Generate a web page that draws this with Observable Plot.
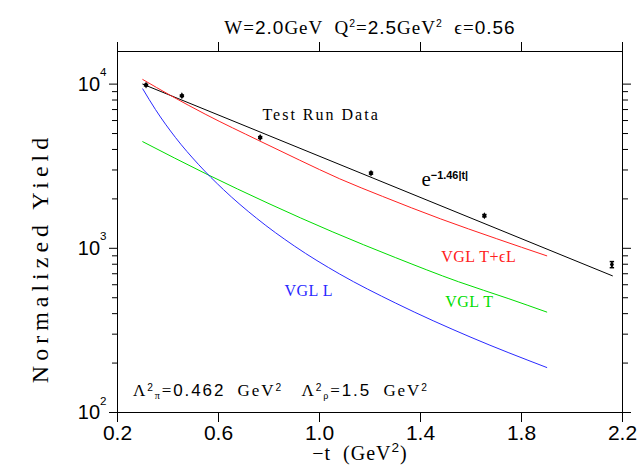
<!DOCTYPE html>
<html><head><meta charset="utf-8">
<script src="https://cdn.jsdelivr.net/npm/d3@7"></script>
<script src="https://cdn.jsdelivr.net/npm/@observablehq/plot@0.6"></script>
<style>
body{margin:0;background:#fff;}
svg text{white-space:pre;}
.title text{letter-spacing:1px;}
.anno text{letter-spacing:1.9px;}
.vgl text{letter-spacing:0.5px;}
.trd text{letter-spacing:2px;}
.ylab text{letter-spacing:5px;}
.xlab text{letter-spacing:1px;}
</style>
</head><body>
<div id="chart"></div>
<script>
// ---- data ----
const xTicks = [0.2, 0.6, 1.0, 1.4, 1.8, 2.2];
const yMajor = [100, 1000, 10000];
const yMinor = [200, 300, 400, 500, 600, 700, 800, 900, 2000, 3000, 4000, 5000, 6000, 7000, 8000, 9000];

// Test run data points
const dataT = [0.313, 0.455, 0.765, 1.204, 1.653, 2.158];
const dataY = [9860, 8490, 4730, 2870, 1580, 796];
const dataErr = [110, 95, 60, 40, 25, 34];

// exponential fit e^{-1.46|t|}
const fitT = [0.30, 2.16];
const fitY = [10000, 680];

// VGL T+eL (red)
const tplT = [0.30, 0.41, 0.55, 0.76, 0.92, 1.08, 1.25, 1.48, 1.70, 1.90];
const tplY = [10670, 8530, 6530, 4530, 3450, 2650, 2070, 1510, 1146, 900];

// VGL T (green)
const vtT = [0.30, 0.55, 0.80, 1.05, 1.30, 1.55, 1.75, 1.90];
const vtY = [4460, 2845, 1870, 1263, 879, 626, 493, 409];

// VGL L (blue)
const vlT = [0.30, 0.35, 0.43, 0.52, 0.62, 0.75, 0.90, 1.08, 1.30, 1.60, 1.90];
const vlY = [9354, 7015, 4721, 3251, 2275, 1528, 1034, 697, 465, 287, 188];

// text
const titleText = "W=2.0GeV  Q^{2}=2.5GeV^{2}  \u03f5=0.56";
const xLabel = "\u2212t  (GeV^{2})";
const yLabel = "Normalized Yield";
const annoText = "\u039b^{2}_{\u03c0}=0.462  GeV^{2}   \u039b^{2}_{\u03c1}=1.5  GeV^{2}";
const fitLabel = "e^{\u22121.46|t|}";
const runLabel = "Test Run Data";
const vglLabels = ["VGL T+\u03f5L", "VGL T", "VGL L"];
const vglLabelT = [1.482, 1.498, 0.861];
const vglLabelY = [893, 475, 552];
const vglColors = ["#ff2020", "#00dd00", "#2a2aff"];

// ---- build tables ----
const zip = (T, Y) => T.map((t, i) => ({t, y: Y[i]}));
const points = dataT.map((t, i) => ({t, y: dataY[i], lo: dataY[i] - dataErr[i], hi: dataY[i] + dataErr[i]}));
const vglText = vglLabels.map((s, i) => ({s, t: vglLabelT[i], y: vglLabelY[i], c: vglColors[i]}));

const SANS = "'Liberation Sans', Arial, Helvetica, sans-serif";
const SERIF = "'Liberation Serif', 'Times New Roman', serif";

const cap = {draw(ctx, size) { const r = Math.sqrt(size / Math.PI); ctx.moveTo(-r, 0); ctx.lineTo(r, 0); }};

const chart = Plot.plot({
  width: 643, height: 467,
  marginLeft: 117, marginRight: 21, marginTop: 51, marginBottom: 55,
  style: {background: "white", color: "black", fontFamily: SANS, overflow: "visible"},
  x: {domain: [0.2, 2.2], label: null},
  y: {type: "log", domain: [100, 15800], label: null},
  marks: [
    Plot.frame({stroke: "black"}),
    Plot.axisX({anchor: "bottom", ticks: xTicks, tickSize: 10, tickPadding: 3, tickFormat: d => d.toFixed(1), fontSize: 21, label: null}),
    Plot.axisX({anchor: "top", ticks: xTicks, tickSize: 10, tickFormat: () => "", label: null}),
    Plot.axisY({anchor: "left", ticks: yMajor, tickSize: 8, tickPadding: 3, tickFormat: d => "10^{" + Math.round(Math.log10(d)) + "}", fontSize: 20, label: null, className: "ytl"}),
    Plot.axisY({anchor: "left", ticks: yMinor, tickSize: 5, tickFormat: () => "", label: null}),
    Plot.axisY({anchor: "right", ticks: yMajor, tickSize: 8, tickFormat: () => "", label: null}),
    Plot.axisY({anchor: "right", ticks: yMinor, tickSize: 5, tickFormat: () => "", label: null}),
    Plot.line(zip(fitT, fitY), {x: "t", y: "y", stroke: "black", strokeWidth: 1}),
    Plot.line(zip(tplT, tplY), {x: "t", y: "y", stroke: vglColors[0], strokeWidth: 1, curve: "monotone-x"}),
    Plot.line(zip(vtT, vtY), {x: "t", y: "y", stroke: vglColors[1], strokeWidth: 1, curve: "monotone-x"}),
    Plot.line(zip(vlT, vlY), {x: "t", y: "y", stroke: vglColors[2], strokeWidth: 1, curve: "monotone-x"}),
    Plot.ruleX(points, {x: "t", y1: "lo", y2: "hi", stroke: "black"}),
    Plot.dot(points, {x: "t", y: "lo", symbol: cap, r: 2.2, stroke: "black"}),
    Plot.dot(points, {x: "t", y: "hi", symbol: cap, r: 2.2, stroke: "black"}),
    Plot.dot(points, {x: "t", y: "y", symbol: "diamond", r: 2.1, fill: "black", stroke: null}),
    Plot.text(vglText, {x: "t", y: "y", text: "s", fill: "c", textAnchor: "start", fontSize: 16, fontFamily: SERIF, className: "vgl"}),
    Plot.text([runLabel], {x: () => 0.774, y: () => 6460, text: d => d, textAnchor: "start", fontSize: 16, fontFamily: SERIF, fill: "black", className: "trd"}),
    Plot.text([fitLabel], {x: () => 1.404, y: () => 2630, text: d => d, textAnchor: "start", fontSize: 21, fontFamily: SERIF, fill: "black", className: "fitl"}),
    Plot.text([annoText], {x: () => 0.261, y: () => 136, text: d => d, textAnchor: "start", fontSize: 17, fontFamily: SERIF, fill: "black", className: "anno"}),
    Plot.text([titleText], {frameAnchor: "top", dy: -31, text: d => d, fontSize: 19, fontFamily: SERIF, fill: "black", className: "title"}),
    Plot.text([xLabel], {frameAnchor: "bottom", dy: 47, dx: -10, text: d => d, fontSize: 20, fontFamily: SERIF, fill: "black", className: "xlab"}),
    Plot.text([yLabel], {frameAnchor: "left", textAnchor: "middle", dx: -77, dy: 26, rotate: -90, text: d => d, fontSize: 24, fontFamily: SERIF, fill: "black", className: "ylab"})
  ]
});
document.getElementById("chart").appendChild(chart);

// ---- rich text (superscripts / subscripts) ----
function parse(str) {
  const out = []; let i = 0, buf = "";
  while (i < str.length) {
    const c = str[i];
    if ((c === "^" || c === "_") && str[i + 1] === "{") {
      if (buf) { out.push({t: buf, mode: "n"}); buf = ""; }
      const j = str.indexOf("}", i + 2);
      out.push({t: str.slice(i + 2, j), mode: c === "^" ? "sup" : "sub"});
      i = j + 1;
    } else { buf += c; i++; }
  }
  if (buf) out.push({t: buf, mode: "n"});
  return out;
}
function richify(el, o) {
  const base = parseFloat(getComputedStyle(el).fontSize);
  const segs = parse(el.textContent);
  el.textContent = "";
  let cur = 0;
  for (const s of segs) {
    const size = s.mode === "n" ? base : base * (s.mode === "sup" ? o.supScale : o.subScale);
    const target = s.mode === "sup" ? -base * o.supShift : s.mode === "sub" ? base * o.subShift : 0;
    const runs = o.mixed ? s.t.match(/[0-9.]+|[^0-9.]+/g) : [s.t];
    runs.forEach((r, k) => {
      const ts = document.createElementNS("http://www.w3.org/2000/svg", "tspan");
      ts.textContent = r;
      ts.setAttribute("font-size", size);
      if (k === 0 && target !== cur) { ts.setAttribute("dy", target - cur); cur = target; }
      const isNum = /^[0-9.]+$/.test(r);
      ts.setAttribute("font-family", (isNum || (s.mode === "sup" && o.supSans)) ? SANS : (o.family || SERIF));
      if (s.mode === "sup" && o.supBold) ts.setAttribute("font-weight", "bold");
      el.appendChild(ts);
    });
  }
}
const svg = d3.select(chart);
svg.selectAll(".ytl text").each(function() { richify(this, {supScale: 0.58, supShift: 0.72, subScale: 0.6, subShift: 0.2, mixed: false, family: SANS}); });
svg.selectAll(".title text").each(function() { richify(this, {supScale: 0.55, supShift: 0.36, subScale: 0.6, subShift: 0.2, mixed: true}); });
svg.selectAll(".anno text").each(function() { richify(this, {supScale: 0.6, supShift: 0.32, subScale: 0.6, subShift: 0.2, mixed: true}); });
svg.selectAll(".xlab text").each(function() { richify(this, {supScale: 0.68, supShift: 0.4, subScale: 0.6, subShift: 0.2, mixed: true}); });
svg.selectAll(".fitl text").each(function() { richify(this, {supScale: 0.52, supShift: 0.34, subScale: 0.6, subShift: 0.2, mixed: false, supSans: true, supBold: true}); });
</script>
</body></html>
